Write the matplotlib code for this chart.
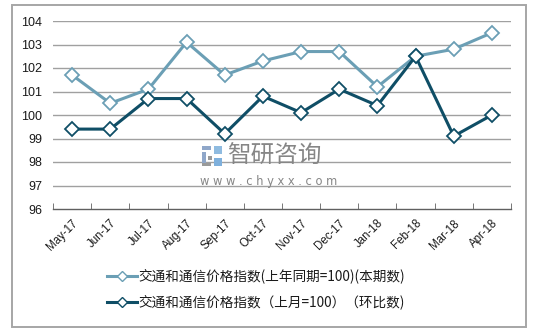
import matplotlib
matplotlib.use("Agg")
import matplotlib.pyplot as plt
from matplotlib.patches import Rectangle
from matplotlib.lines import Line2D

months = ["May-17", "Jun-17", "Jul-17", "Aug-17", "Sep-17", "Oct-17",
          "Nov-17", "Dec-17", "Jan-18", "Feb-18", "Mar-18", "Apr-18"]
yoy_index = [101.7, 100.5, 101.1, 103.1, 101.7, 102.3,
             102.7, 102.7, 101.2, 102.5, 102.8, 103.5]
mom_index = [99.4, 99.4, 100.7, 100.7, 99.2, 100.8,
             100.1, 101.1, 100.4, 102.5, 99.1, 100.0]
yoy_label = "交通和通信价格指数(上年同期=100)(本期数)"
mom_label = "交通和通信价格指数（上月=100）（环比数)"
y_ticks = [96, 97, 98, 99, 100, 101, 102, 103, 104]

light = "#6b9fb5"
dark = "#0f4e66"

fig = plt.figure(figsize=(5.37, 3.35), dpi=100)
fig.patch.set_facecolor("white")

# outer chart frame
fig.patches.append(Rectangle((12 / 537, 1 - 327 / 335), (526 - 12) / 537, (327 - 5) / 335,
                             transform=fig.transFigure, fill=False,
                             edgecolor="#a6a6a6", linewidth=1.4))

ax = fig.add_axes([53 / 537, 1 - 209 / 335, (511 - 53) / 537, (209 - 21) / 335])
x = list(range(len(months)))

for yt in y_ticks[1:]:
    ax.axhline(yt, color="#a0a0a0", linewidth=1.0, zorder=1)

ax.plot(x, yoy_index, color=light, linewidth=2.2, marker="D", markersize=7,
        markerfacecolor="white", markeredgecolor=light, markeredgewidth=1.3, zorder=3)
ax.plot(x, mom_index, color=dark, linewidth=2.2, marker="D", markersize=7,
        markerfacecolor="white", markeredgecolor=dark, markeredgewidth=1.3, zorder=4)

ax.set_xlim(-0.5, len(months) - 0.5)
ax.set_ylim(96, 104)
ax.set_yticks(y_ticks)
ax.set_yticklabels([str(v) for v in y_ticks], fontsize=9, family="Liberation Sans",
                   color="#1a1a1a")
ax.set_xticks(x)
ax.set_xticklabels(months, rotation=45, ha="right", rotation_mode="anchor",
                   fontsize=8.3, family="Liberation Sans", color="#1a1a1a")
ax.set_xticks([i - 0.5 for i in range(len(months) + 1)], minor=True)
ax.tick_params(axis="x", which="major", length=0, pad=6)
ax.tick_params(axis="x", which="minor", length=4, direction="in", color="#606060")
ax.tick_params(axis="y", length=0, pad=8)

for s in ["top", "right", "left"]:
    ax.spines[s].set_visible(False)
ax.spines["bottom"].set_color("#606060")
ax.spines["bottom"].set_linewidth(1.0)

# watermark: small block logo plus name and site
for (lx, ly, w, h, c) in [(202, 146, 9, 4, "#8fa7c9"), (202, 152, 4, 14, "#8fa7c9"),
                          (208, 156, 4, 4, "#9a9a9a"), (214, 146, 8, 8, "#8fbbe0"),
                          (214, 158, 8, 8, "#7fb0dc"), (202, 163, 9, 3, "#9a9a9a")]:
    fig.patches.append(Rectangle((lx / 537, 1 - (ly + h) / 335), w / 537, h / 335,
                                 transform=fig.transFigure, facecolor=c,
                                 edgecolor="none"))
fig.text(227 / 537, 1 - 156 / 335, "智研咨询", fontsize=17, color="#868686",
         family="Noto Sans CJK SC", va="center", ha="left")
fig.text(200 / 537, 1 - 181 / 335, "w w w . c h y x x . c o m", fontsize=8.3,
         color="#868686", family="DejaVu Sans", va="center", ha="left")

# legend
cjk = ["Noto Sans CJK SC", "DejaVu Sans"]
for row_y, color, label in [(276, light, yoy_label), (302, dark, mom_label)]:
    fy = 1 - row_y / 335
    fig.lines.append(Line2D([107 / 537, 137 / 537], [fy, fy], transform=fig.transFigure,
                            color=color, linewidth=2.2))
    fig.lines.append(Line2D([122 / 537], [fy], transform=fig.transFigure, marker="D",
                            markersize=5, markerfacecolor="white",
                            markeredgecolor=color, markeredgewidth=1.0, linestyle="none"))
    fig.text(138 / 537, fy, label, fontsize=9.8, family=cjk, va="center", ha="left",
             color="#1a1a1a")

fig.savefig("out.png", dpi=100, facecolor="white")
